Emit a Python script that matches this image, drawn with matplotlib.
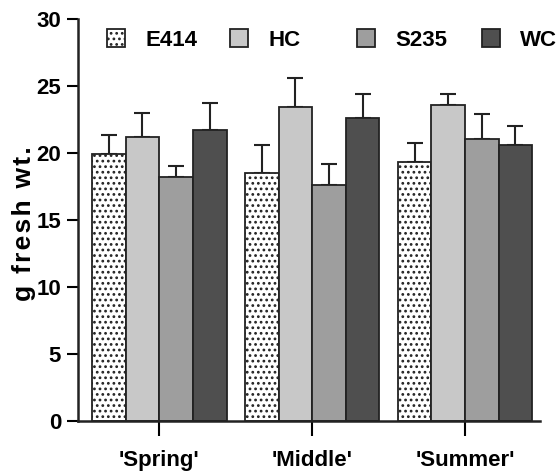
import numpy as np
import matplotlib.pyplot as plt

plt.rcParams['font.family'] = ['Liberation Sans', 'DejaVu Sans']
plt.rcParams['hatch.linewidth'] = 1.2

# Daten
seasons = ["'Spring'", "'Middle'", "'Summer'"]
lines = ['E414', 'HC', 'S235', 'WC']
means = {
    'E414': [19.9, 18.5, 19.35],
    'HC':   [21.2, 23.4, 23.6],
    'S235': [18.2, 17.6, 21.0],
    'WC':   [21.7, 22.6, 20.6],
}
errs = {
    'E414': [1.4, 2.1, 1.4],
    'HC':   [1.8, 2.2, 0.8],
    'S235': [0.85, 1.6, 1.9],
    'WC':   [2.0, 1.8, 1.4],
}
yticks = [0, 5, 10, 15, 20, 25, 30]

colors = {'E414': 'white', 'HC': '#c8c8c8', 'S235': '#9e9e9e', 'WC': '#4f4f4f'}
hatches = {'E414': '...', 'HC': None, 'S235': None, 'WC': None}

fig = plt.figure(figsize=(5.6, 4.76), dpi=100)
ax = fig.add_axes([0.139, 0.1155, 0.825, 0.845])

x = np.arange(len(seasons))
w = 0.22
handles = []
for i, name in enumerate(lines):
    pos = x + (i - 1.5) * w
    b = ax.bar(pos, means[name], w, color=colors[name], edgecolor='#222222',
               linewidth=1.3, hatch=hatches[name], label=name, zorder=2)
    handles.append(b)
    ax.errorbar(pos, means[name], yerr=[np.zeros(3), errs[name]], fmt='none',
                ecolor='#222222', elinewidth=1.5, capsize=6, capthick=1.5, zorder=1)

ax.set_xlim(-0.533, 2.49)
ax.set_ylim(0, 30)
ax.set_yticks(yticks)
ax.set_xticks(x)
ax.set_xticklabels(seasons)
for s in ['top', 'right']:
    ax.spines[s].set_visible(False)
for s in ['left', 'bottom']:
    ax.spines[s].set_linewidth(1.8)
    ax.spines[s].set_color('#222222')
ax.tick_params(axis='y', length=8, width=1.5, labelsize=16, pad=4)
ax.tick_params(axis='x', length=11, width=1.5, labelsize=16, pad=10)
for lab in ax.get_xticklabels() + ax.get_yticklabels():
    lab.set_fontweight('bold')

# leicht gesperrte Schrift wie im Original
ylab = '\u200a'.join('g fresh wt.')
ax.set_ylabel(ylab, fontsize=19, fontweight='bold')
ax.yaxis.set_label_coords(-0.09, 0.49)

# Legende: vier einzelne Einträge wie im Original
leg_x = [107, 230, 357, 482]
for h, name, lx in zip(handles, lines, leg_x):
    leg = fig.legend([h], [name], loc='center left',
                     bbox_to_anchor=(lx / 560, 1 - 40 / 476), frameon=False,
                     borderpad=0, borderaxespad=0, handlelength=0.82,
                     handleheight=0.82, handletextpad=0.9,
                     prop={'size': 16, 'weight': 'bold'})

fig.savefig('out.png', dpi=100)
